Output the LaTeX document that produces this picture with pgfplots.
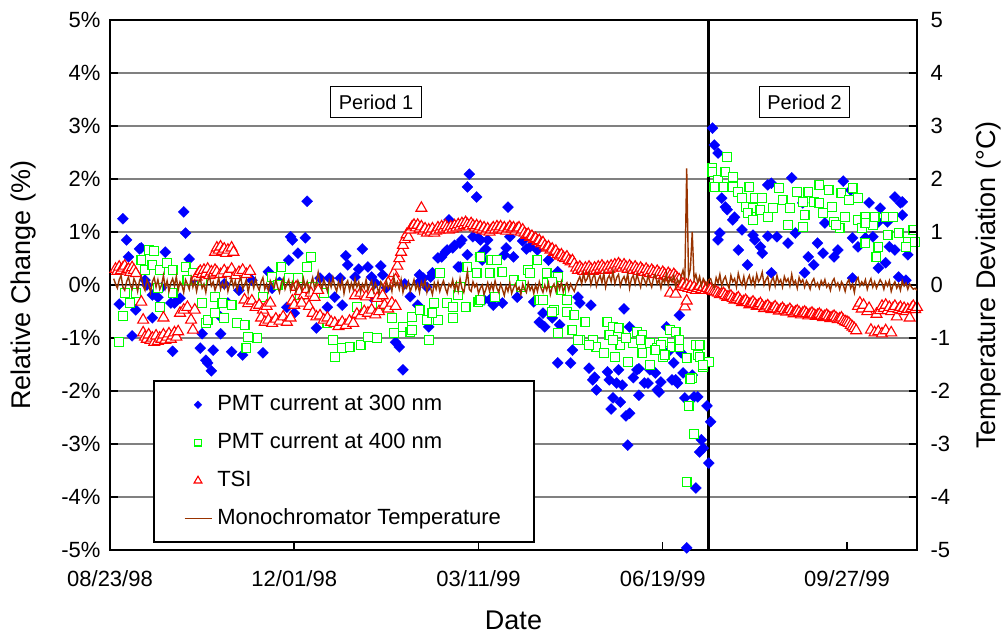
\documentclass[border=0pt]{standalone}
\usepackage{fontspec}
\setmainfont{Liberation Sans}
\usepackage{pgfplots}
\pgfplotsset{compat=1.18}
\definecolor{pmtblue}{RGB}{0,0,255}
\definecolor{pmtgreen}{RGB}{0,255,0}
\definecolor{tsired}{RGB}{255,0,0}
\definecolor{tempbrown}{RGB}{153,51,0}
\definecolor{gridgray}{RGB}{128,128,128}
\begin{document}
\begin{tikzpicture}
\pgfplotsset{
  every axis/.append style={
    width=807bp, height=530bp, scale only axis,
    xmin=0, xmax=438, ymin=-5, ymax=5,
    tick align=inside, major tick length=8bp,
    every tick/.style={black, line width=1.5bp},
    ticklabel style={font=\fontsize{22bp}{26bp}\selectfont},
    label style={font=\fontsize{27bp}{32bp}\selectfont},
    /pgf/number format/assume math mode=true,
  }
}
\begin{axis}[name=ax,
  axis line style={black, line width=2.5bp},
  xtick={0,100,200,300,400},
  xticklabels={08/23/98,12/01/98,03/11/99,06/19/99,09/27/99},
  xtick pos=bottom, ytick pos=left,
  ytick={-5,-4,-3,-2,-1,0,1,2,3,4,5},
  yticklabels={-5\%,-4\%,-3\%,-2\%,-1\%,0\%,1\%,2\%,3\%,4\%,5\%},
  ymajorgrids, grid style={gridgray, line width=1.5bp},
  extra y ticks={0}, extra y tick labels={},
  extra y tick style={grid style={black, line width=1bp}},
  xlabel={Date}, ylabel={Relative Change (\%)},
  xlabel style={at={(axis description cs:0.5,-0.132)}, anchor=center},
  ylabel style={at={(axis description cs:-0.1066,0.5)}, anchor=center},
  xticklabel style={yshift=-17bp},
  yticklabel style={xshift=-6bp},
]
% PMT current at 300 nm
\addplot[only marks, mark=square*, mark size=3.9bp, mark options={rotate=45, draw=pmtblue, fill=pmtblue, line width=0.3bp}] coordinates {
(7,1.25)(9,0.85)(10,0.53)(16,0.68)(17,0.70)(5,-0.36)(14,-0.47)(12,-0.96)(23,-0.62)(30,0.62)
(34,-1.25)(40,1.38)(41,0.98)(38,-0.25)(33,-0.34)(43,0.49)(49,-1.19)(50,-0.92)(52,-1.42)(53,-1.47)
(55,-1.62)(56,-1.23)(60,-0.92)(66,-1.26)(72,-1.32)(83,-1.28)(60,-0.60)(64,-0.34)(77,0.09)(86,0.25)
(98,0.91)(99,0.85)(102,0.60)(97,0.47)(19,0.09)(23,-0.19)(26,-0.23)(35,-0.34)(100,-0.53)(96,-0.42)
(20,0.00)(28,-0.05)(45,0.10)(62,0.02)(70,-0.10)(88,-0.06)(92,0.05)(110,-0.10)(150,-0.05)(160,0.02)(163,-0.22)
(107,1.58)(106,0.89)(137,0.68)(128,0.55)(129,0.38)(135,0.30)(140,0.34)(147,0.36)(148,0.19)(133,0.15)
(125,0.13)(114,0.13)(119,0.13)(142,0.15)(144,0.04)(122,-0.23)(118,-0.42)(126,-0.38)(142,-0.23)(112,-0.81)
(155,-1.08)(157,-1.17)(159,-1.60)(167,-0.38)(173,-0.79)(170,0.13)(174,0.15)(175,0.23)(178,0.51)(180,0.53)
(183,0.66)(186,0.70)(187,0.75)(184,1.23)(189,0.34)(191,0.85)(193,1.19)(195,2.09)(194,1.85)(199,1.66)
(197,0.91)(200,0.89)(204,0.68)(202,0.47)(205,0.85)(201,0.53)(203,-0.28)(206,-0.28)(172,-0.04)(168,0.19)
(190,0.79)(201,0.85)(194,0.57)(201,0.57)(168,0.06)(190,0.34)(182,0.62)
(216,1.47)(217,0.91)(215,0.70)(219,0.53)(214,0.57)(224,0.83)(226,0.68)(228,0.72)(232,0.66)(238,0.47)
(243,0.25)(208,-0.38)(213,-0.34)(221,-0.23)(230,-0.32)(235,-0.53)(233,-0.70)(236,-0.79)(240,-0.62)(244,-0.75)
(254,-0.23)(255,-0.34)(261,-0.38)(279,-0.45)(251,-1.23)(243,-1.47)(250,-1.47)(260,-1.57)(262,-1.79)(264,-1.98)
(270,-1.64)(276,-1.60)(282,-0.79)(286,-1.60)(292,-1.85)(297,-1.98)(299,-1.83)(305,-1.79)(308,-1.85)(311,-1.66)
(302,-0.79)(309,-0.57)(273,-2.13)(287,-2.08)(317,-2.11)(263,-1.74)(271,-1.79)(275,-1.85)(278,-1.89)(277,-2.21)
(272,-2.34)(282,-2.42)(280,-2.47)(281,-3.02)(284,-1.75)(287,-1.58)(290,-1.85)(293,-1.60)(296,-1.66)(298,-2.02)
(307,-1.79)(312,-2.13)(319,-2.11)(324,-2.28)(326,-2.58)(321,-2.92)(322,-3.08)(320,-3.15)(325,-3.36)(318,-3.83)
(313,-4.96)(306,-1.47)(303,-1.26)(310,-1.28)(316,-1.70)
(327,2.96)(328,2.64)(330,2.49)(332,1.64)(334,1.47)(335,1.42)(339,1.28)(338,1.23)(331,0.98)(330,0.85)
(343,1.04)(349,0.94)(350,0.85)(341,0.66)(346,0.38)(353,0.72)(354,0.60)(357,0.92)(357,1.89)(359,1.92)
(362,0.91)(359,0.23)(368,0.79)(370,2.02)(372,0.98)(376,1.55)(377,0.23)(379,0.53)(382,0.38)(384,0.79)
(387,0.60)(388,1.17)(393,0.53)(395,0.66)(398,1.96)(402,1.79)(403,0.89)(406,0.72)(403,0.13)(412,1.55)
(410,0.89)(414,0.91)(417,0.32)(421,0.42)(423,0.72)(426,0.66)(426,1.66)(429,1.55)(430,1.57)(430,1.32)
(433,0.57)(428,0.15)(432,0.09)(422,1.19)(418,1.45)(417,1.19)
};
% PMT current at 400 nm
\addplot[only marks, mark=square*, mark size=4.4bp, mark options={draw=pmtgreen, fill=white, line width=1.2bp}] coordinates {
(5,-1.08)(7,-0.58)(11,-0.34)(8,-0.15)(14,-0.15)(17,0.47)(21,0.66)(24,0.64)(19,0.28)(23,0.38)
(27,0.28)(31,0.42)(34,0.28)(26,-0.06)(27,-0.42)(34,-0.15)(41,0.34)(45,0.23)(42,0.09)(50,0.09)
(50,-0.34)(52,-0.72)(53,-0.66)(57,-0.23)(57,-0.53)(61,-0.34)(62,-0.62)(66,-0.38)(69,-0.72)(73,-0.75)
(75,-0.98)(74,-1.19)(80,-1.00)(83,-0.23)(88,0.15)(93,0.34)(91,0.00)(97,0.13)(102,0.13)(103,-0.19)
(107,0.34)(109,0.53)(110,-0.04)(116,-0.15)(118,-0.72)(121,-1.04)(122,-1.36)(126,-1.19)(130,-1.17)(136,-1.13)
(140,-0.98)(145,-1.00)(134,-0.42)(147,-0.38)(153,-0.62)(159,-0.79)(154,-0.91)(163,-0.89)(164,-0.60)(168,-0.47)
(173,-1.04)(172,-0.66)(178,-0.66)(176,-0.34)(183,-0.34)(186,-0.62)(179,0.23)(189,-0.19)(193,-0.42)(194,0.34)
(199,0.23)(200,-0.32)(201,0.53)(206,0.23)(207,0.47)(210,0.47)(213,0.25)(219,0.09)(232,0.47)(227,0.28)
(223,-0.04)(237,0.04)(243,0.15)(233,-0.28)(241,-0.47)(248,-0.28)(201,-0.28)(209,-0.23)(190,-0.04)(164,-0.85)
(175,-0.53)(186,-0.42)(223,0.00)(228,0.23)(237,0.23)(240,0.06)(235,-0.28)(245,-0.09)(240,-0.51)(248,-0.51)
(252,-0.57)(258,-0.70)(243,-0.91)(251,-0.85)(255,-1.04)(262,-1.04)(270,-0.70)(273,-0.79)(276,-0.81)(271,-0.94)
(264,-1.17)(268,-1.28)(274,-1.36)(281,-1.45)(286,-0.89)(289,-0.94)(284,-1.09)(293,-1.09)(297,-1.19)(300,-1.08)
(304,-0.85)(307,-0.89)(305,-1.17)(309,-1.17)(313,-1.38)(319,-1.32)(322,-1.55)(316,-1.75)(293,-1.51)(300,-1.36)
(289,-1.28)(254,-1.04)(260,-1.13)(277,-1.13)(288,-1.04)(299,-1.13)(309,-1.04)(318,-1.13)(273,-1.04)(280,-1.00)
(296,-1.23)(301,-1.32)(320,-1.13)
(315,-1.77)(314,-2.28)(317,-2.81)(313,-3.72)(325,-1.45)(320,-1.36)(322,-1.51)
(327,2.21)(327,2.13)(335,2.42)(330,1.98)(334,2.13)(338,2.04)(328,1.85)(333,1.85)(338,1.85)(341,1.75)
(347,1.85)(343,1.64)(345,1.47)(350,1.64)(354,1.64)(349,1.45)(346,1.36)(349,1.23)(353,1.42)(357,1.28)
(360,1.45)(363,1.83)(365,1.60)(369,1.45)(368,1.13)(373,1.75)(376,1.57)(379,1.75)(377,1.32)(382,1.57)
(376,1.09)(385,1.89)(390,1.79)(385,1.55)(387,1.36)(392,1.47)(393,1.19)(397,1.74)(403,1.83)(406,1.64)
(401,1.60)(399,1.28)(396,1.08)(394,1.13)(406,1.23)(410,1.28)(408,1.08)(414,1.13)(410,0.79)(417,0.72)
(415,1.28)(421,1.28)(425,1.28)(422,0.94)(428,0.98)(433,0.81)(436,1.04)(437,0.81)(432,0.72)(416,0.53)
(410,1.17)
};
% TSI
\addplot[only marks, mark=triangle*, mark size=6.3bp, mark options={draw=tsired, fill=white, line width=1.1bp}] coordinates {
(3,0.30)(4,0.26)(5,0.34)(6,0.28)(7,0.32)(8,0.36)(9,0.27)(10,0.30)(11,0.24)(12,0.33)(13,0.28)(14,0.22)
(17,-0.32)(18,-0.66)
(18,-0.90)(19,-0.98)(20,-1.02)(21,-0.94)(22,-1.04)(23,-1.00)(24,-1.08)(25,-0.96)(26,-1.06)(27,-1.00)
(28,-1.02)(29,-0.94)(30,-1.04)(31,-0.98)(32,-0.92)(33,-1.02)(34,-0.96)(35,-0.90)(36,-0.98)(37,-0.88)
(29,-0.62)(38,-0.53)(40,-0.47)(42,-0.42)(44,-0.66)(45,-0.85)(46,-0.47)
(47,0.15)(48,0.22)(49,0.26)(50,0.20)(51,0.28)(52,0.22)(53,0.30)(54,0.18)(55,0.25)(56,0.21)(57,0.28)
(58,0.24)(60,0.20)(62,0.27)(64,0.22)(66,0.30)(68,0.18)(70,0.24)(72,0.28)(74,0.20)(76,0.26)
(57,0.62)(58,0.70)(59,0.66)(60,0.72)(61,0.64)(62,0.68)(63,0.60)(64,0.66)(66,0.70)(67,0.62)
(73,-0.28)(75,-0.35)(77,-0.30)(79,-0.42)(81,-0.38)(83,-0.47)(85,-0.40)(87,-0.34)
(82,-0.62)(84,-0.70)(86,-0.66)(88,-0.72)(90,-0.64)(92,-0.68)(94,-0.60)(96,-0.70)(98,-0.62)
(99,-0.30)(101,-0.04)(103,-0.12)(105,-0.20)(107,-0.08)(109,-0.15)(111,-0.23)(113,-0.10)(100,-0.38)(104,-0.34)(108,-0.40)
(110,-0.53)(112,-0.60)(114,-0.58)(116,-0.66)(118,-0.62)(120,-0.70)(122,-0.72)(124,-0.78)(126,-0.70)(128,-0.76)(130,-0.68)(132,-0.72)
(134,-0.55)(136,-0.58)(138,-0.50)(140,-0.53)(142,-0.47)(144,-0.56)(146,-0.50)
(133,-0.20)(136,-0.15)(139,-0.22)(142,-0.18)(145,-0.25)(148,-0.20)
(149,-0.38)(151,-0.45)(153,-0.34)(155,-0.40)(151,0.04)
(154,0.22)(155,0.10)(156,0.36)(157,0.50)(158,0.62)(159,0.75)(160,0.86)(161,0.95)(162,0.90)(163,1.04)(164,1.10)(165,1.13)
(169,1.45)
(166,1.08)(167,1.13)(168,1.06)(169,1.10)(170,1.02)(171,1.06)(172,0.98)(173,1.04)(174,1.00)(175,1.06)
(176,0.98)(177,1.02)(178,1.08)(179,1.04)(180,1.10)(181,1.06)(182,1.12)(183,1.08)(184,1.04)(185,1.10)
(186,1.06)(187,1.12)(188,1.08)(189,1.14)(190,1.10)(191,1.16)(192,1.12)(193,1.18)(194,1.14)(195,1.10)
(196,1.16)(197,1.12)(198,1.08)(199,1.12)(200,1.06)(201,1.10)(202,1.04)(203,1.08)(204,1.02)(205,1.06)
(206,1.00)(207,1.04)(208,1.08)(209,1.04)(210,1.10)(211,1.06)(212,1.10)(213,1.04)(214,1.08)(215,1.02)
(216,1.06)(217,1.10)(218,1.06)(219,1.08)(220,1.02)(221,1.06)(222,1.08)(223,1.00)(224,1.04)
(225,0.98)(226,0.94)(227,0.96)(228,0.90)(229,0.92)(230,0.86)(231,0.88)(232,0.82)(233,0.84)(234,0.78)
(235,0.80)(236,0.74)(237,0.70)(238,0.72)(239,0.66)(240,0.68)(241,0.62)(242,0.64)(243,0.58)(244,0.55)
(245,0.57)(246,0.52)(247,0.50)(248,0.53)(249,0.47)(250,0.44)(251,0.46)(252,0.40)
(253,0.32)(254,0.28)(255,0.34)(256,0.30)(257,0.26)(258,0.32)(259,0.28)(260,0.34)(261,0.30)(262,0.26)
(263,0.32)(264,0.28)(265,0.34)(266,0.30)(267,0.36)(268,0.32)(269,0.28)(270,0.34)(271,0.30)(272,0.36)
(273,0.32)(274,0.38)(275,0.34)(276,0.40)(277,0.36)(278,0.32)(279,0.38)(280,0.34)(281,0.30)(282,0.36)
(283,0.32)(284,0.28)(285,0.34)(286,0.30)(287,0.26)(288,0.32)(289,0.28)(290,0.24)(291,0.30)(292,0.26)
(293,0.22)(294,0.28)(295,0.24)(296,0.20)(297,0.26)(298,0.22)(299,0.18)(300,0.24)(301,0.20)(302,0.16)
(303,0.22)(304,0.18)(305,0.14)(306,0.20)(307,0.16)(308,0.12)(309,0.10)
(304,-0.15)(307,-0.17)(312,-0.41)(313,-0.30)
(310,-0.02)(311,0.02)(312,-0.04)(313,0.00)(314,-0.06)(315,-0.02)(316,-0.08)(317,-0.04)(318,-0.10)
(319,-0.06)(320,-0.02)(321,-0.08)(322,-0.04)(323,-0.10)(324,-0.06)(325,-0.10)
(326,-0.08)(327,-0.11)(328,-0.12)(329,-0.13)(330,-0.15)(331,-0.18)(332,-0.17)(333,-0.16)(334,-0.20)
(335,-0.23)(336,-0.22)(337,-0.21)(338,-0.25)(339,-0.28)(340,-0.27)(341,-0.24)(342,-0.29)(343,-0.33)
(344,-0.31)(345,-0.29)(346,-0.33)(347,-0.37)(348,-0.35)(349,-0.32)(350,-0.36)(351,-0.40)(352,-0.38)
(353,-0.35)(354,-0.40)(355,-0.44)(356,-0.41)(357,-0.39)(358,-0.43)(359,-0.46)(360,-0.44)(361,-0.41)
(362,-0.45)(363,-0.49)(364,-0.47)(365,-0.44)(366,-0.48)(367,-0.51)(368,-0.49)(369,-0.46)(370,-0.50)
(371,-0.54)(372,-0.51)(373,-0.49)(374,-0.52)(375,-0.56)(376,-0.53)(377,-0.51)(378,-0.54)(379,-0.58)
(380,-0.55)(381,-0.53)(382,-0.56)(383,-0.59)(384,-0.57)(385,-0.55)(386,-0.58)(387,-0.61)(388,-0.59)
(389,-0.57)(390,-0.60)(391,-0.63)(392,-0.61)(393,-0.59)(394,-0.62)(395,-0.65)(396,-0.64)(397,-0.62)
(398,-0.67)(399,-0.69)(400,-0.70)(401,-0.72)(402,-0.76)(403,-0.79)(404,-0.82)(405,-0.86)
(413,-0.85)(415,-0.90)(417,-0.88)(419,-0.92)(421,-0.86)(424,-0.90)
(406,-0.40)(407,-0.34)(408,-0.45)(409,-0.38)(411,-0.50)(412,-0.44)(416,-0.55)(418,-0.48)(419,-0.40)
(420,-0.44)(421,-0.38)(422,-0.48)(423,-0.42)(424,-0.50)(425,-0.44)(426,-0.40)(427,-0.60)(428,-0.46)
(429,-0.42)(430,-0.48)(431,-0.44)(432,-0.50)(433,-0.46)(434,-0.62)(435,-0.44)(436,-0.40)(437,-0.46)(438,-0.42)
};
\addplot[black, line width=3bp, forget plot] coordinates {(325,-5) (325,5)};
\node[draw=black, line width=1.2bp, fill=white, font=\fontsize{20bp}{24bp}\selectfont, inner xsep=8bp, inner ysep=8bp] at (axis cs:144.4,3.45) {Period 1};
\node[draw=black, line width=1.2bp, fill=white, font=\fontsize{20bp}{24bp}\selectfont, inner xsep=8bp, inner ysep=8bp] at (axis cs:377,3.45) {Period 2};
\end{axis}
\begin{axis}[
  axis x line=none, axis y line*=right,
  axis line style={black, line width=2.5bp},
  ytick={-5,-4,-3,-2,-1,0,1,2,3,4,5},
  yticklabels={-5,-4,-3,-2,-1,0,1,2,3,4,5},
  ylabel={Temperature Deviation (°C)},
  ylabel style={at={(axis description cs:1.088,0.5)}, anchor=center},
  yticklabel style={xshift=10bp},
  legend cell align=left,
  legend style={at={(0.0533,0.0132)}, anchor=south west, draw=black, line width=1.5bp, fill=white,
    font=\fontsize{22bp}{26bp}\selectfont, inner xsep=30bp, inner ysep=10bp, row sep=11bp, column sep=2bp,
    nodes={inner xsep=3bp, inner ysep=3bp, text height=16bp, text depth=5bp}},
]
\addlegendimage{legend image code/.code={\path (0bp,0bp) (27bp,0bp); \draw[pmtblue] plot[only marks, mark=square*, mark size=2.8bp, mark options={rotate=45, fill=pmtblue, line width=0.3bp}] coordinates {(13.5bp,0bp)};}}
\addlegendentry{PMT current at 300 nm}
\addlegendimage{legend image code/.code={\path (0bp,0bp) (27bp,0bp); \draw[pmtgreen] plot[only marks, mark=square*, mark size=3.3bp, mark options={fill=white, line width=1.2bp}] coordinates {(13.5bp,0bp)};}}
\addlegendentry{PMT current at 400 nm}
\addlegendimage{legend image code/.code={\path (0bp,0bp) (27bp,0bp); \draw[tsired] plot[only marks, mark=triangle*, mark size=4.5bp, mark options={fill=white, line width=1.1bp}] coordinates {(13.5bp,0bp)};}}
\addlegendentry{TSI}
\addplot[tempbrown, line width=1.4bp, legend image code/.code={\draw[tempbrown, line width=1.3bp] (0bp,0bp) -- (27bp,0bp);}] coordinates {
(2,0.12)(3,0.02)(4,-0.06)(5,0.10)(6,0.18)(7,-0.04)(8,-0.10)(9,0.06)(10,0.15)(11,0.00)
(12,-0.08)(13,0.12)(14,0.04)(15,-0.12)(16,0.08)(17,0.16)(18,-0.02)(19,-0.10)(20,0.10)(21,0.02)
(22,-0.14)(23,0.06)(24,0.14)(25,-0.04)(26,0.10)(27,-0.08)(28,0.00)(29,0.18)(30,-0.06)(31,0.08)
(32,-0.12)(33,0.04)(34,0.12)(35,-0.02)(36,0.16)(37,-0.10)(38,0.06)(39,0.00)(40,-0.14)(41,0.10)
(42,0.02)(43,-0.08)(44,0.14)(45,-0.04)(46,0.08)(47,-0.12)(48,0.04)(49,0.12)(50,-0.06)(51,0.02)
(52,-0.14)(53,0.08)(54,0.16)(55,-0.02)(56,0.06)(57,-0.10)(58,0.00)(59,0.14)(60,-0.08)(61,0.04)
(62,-0.06)(63,0.10)(64,-0.12)(65,0.02)(66,0.12)(67,-0.04)(68,0.08)(69,-0.10)(70,0.06)(71,0.14)
(72,-0.08)(73,0.00)(74,0.10)(75,-0.14)(76,0.04)(77,0.08)(78,-0.06)(79,0.12)(80,-0.02)(81,-0.10)
(82,0.06)(83,0.14)(84,-0.08)(85,0.02)(86,-0.12)(87,0.08)(88,0.00)(89,-0.06)(90,0.10)(91,-0.04)
(92,-0.14)(93,0.04)(94,0.12)(95,-0.08)(96,0.02)(97,0.10)(98,-0.10)(99,0.06)(100,-0.02)(101,-0.12)
(102,0.08)(103,0.00)(104,-0.10)(105,0.12)(106,-0.04)(107,0.06)(108,-0.14)(109,0.02)(110,0.14)(111,-0.06)
(112,0.04)(113,0.24)(114,0.06)(115,-0.08)(116,0.10)(117,0.00)(118,-0.12)(119,0.08)(120,-0.04)(121,0.14)
(122,-0.02)(123,-0.12)(124,0.06)(125,-0.06)(126,0.10)(127,-0.16)(128,0.02)(129,0.08)(130,-0.10)(131,0.04)
(132,-0.08)(133,0.12)(134,-0.04)(135,0.06)(136,-0.14)(137,0.02)(138,-0.06)(139,0.10)(140,-0.10)(141,0.00)
(142,0.08)(143,-0.12)(144,0.04)(145,-0.04)(146,-0.16)(147,0.06)(148,0.00)(149,-0.10)(150,0.08)(151,-0.06)
(152,0.02)(153,-0.12)(154,0.16)(155,-0.02)(156,0.06)(157,-0.08)(158,0.10)(159,-0.14)(160,0.00)(161,-0.06)
(162,0.06)(163,-0.12)(164,-0.02)(165,0.10)(166,-0.08)(167,0.02)(168,-0.14)(169,0.06)(170,-0.04)(171,0.08)
(172,-0.14)(173,0.00)(174,-0.06)(175,-0.18)(176,0.04)(177,-0.08)(178,0.06)(179,-0.12)(180,0.00)(181,0.08)
(182,-0.06)(183,-0.16)(184,0.02)(185,-0.04)(186,0.10)(187,-0.10)(188,0.04)(189,-0.12)(190,0.12)(191,-0.06)
(192,-0.14)(193,0.04)(194,0.26)(195,-0.08)(196,-0.12)(197,0.06)(198,-0.04)(199,0.02)(200,-0.16)(201,-0.06)
(202,0.00)(203,-0.18)(204,-0.08)(205,0.04)(206,-0.12)(207,0.02)(208,-0.10)(209,0.08)(210,-0.06)(211,-0.14)
(212,0.02)(213,-0.08)(214,-0.20)(215,-0.02)(216,-0.12)(217,0.04)(218,-0.16)(219,-0.06)(220,0.02)(221,-0.10)
(222,-0.04)(223,-0.18)(224,0.02)(225,-0.08)(226,-0.14)(227,0.04)(228,-0.10)(229,-0.02)(230,-0.16)(231,0.00)
(232,-0.12)(233,0.06)(234,-0.06)(235,-0.14)(236,0.00)(237,-0.10)(238,0.04)(239,-0.18)(240,-0.04)(241,0.02)
(242,-0.12)(243,0.04)(244,-0.08)(245,0.06)(246,-0.14)(247,-0.02)(248,0.04)(249,-0.10)(250,0.02)(251,-0.06)
(252,-0.12)(253,0.00)(254,0.08)(255,0.16)(256,0.02)(257,0.22)(258,0.06)(259,0.12)(260,0.24)(261,0.00)
(262,0.14)(263,0.20)(264,-0.02)(265,0.10)(266,0.18)(267,0.04)(268,0.22)(269,-0.04)(270,0.12)(271,0.18)
(272,0.06)(273,0.26)(274,0.02)(275,0.14)(276,0.20)(277,-0.02)(278,0.10)(279,0.16)(280,0.04)(281,0.22)
(282,-0.06)(283,0.12)(284,0.18)(285,0.02)(286,0.20)(287,0.08)(288,-0.04)(289,0.16)(290,0.10)(291,0.00)
(292,0.18)(293,0.06)(294,-0.04)(295,0.14)(296,0.20)(297,0.02)(298,0.10)(299,-0.06)(300,0.12)(301,0.04)
(302,0.22)(303,0.00)(304,0.14)(305,0.06)(306,0.18)(307,-0.04)(308,0.10)(309,0.04)(310,0.16)(311,0.28)
(312,0.10)(313,2.20)(314,0.15)(315,0.30)(316,1.00)(317,0.10)(318,0.20)(319,0.04)(320,0.16)(321,-0.02)
(322,0.12)(323,0.06)(324,-0.02)(325,0.10)
(326,0.12)(327,0.00)(328,-0.06)(329,0.14)(330,0.04)(331,0.20)(332,-0.02)(333,0.10)(334,0.16)(335,0.02)
(336,-0.06)(337,0.18)(338,0.06)(339,0.12)(340,-0.04)(341,0.22)(342,0.08)(343,0.00)(344,0.16)(345,-0.04)
(346,0.10)(347,0.18)(348,0.02)(349,0.14)(350,-0.02)(351,0.20)(352,0.06)(353,0.12)(354,0.24)(355,0.00)
(356,0.10)(357,0.16)(358,-0.06)(359,0.08)(360,0.14)(361,-0.02)(362,0.18)(363,0.04)(364,0.10)(365,-0.04)
(366,0.16)(367,0.06)(368,0.12)(369,-0.02)(370,0.20)(371,0.02)(372,0.08)(373,-0.06)(374,0.14)(375,0.04)
(376,0.10)(377,-0.04)(378,0.08)(379,0.02)(380,-0.08)(381,0.06)(382,0.12)(383,-0.02)(384,0.04)(385,-0.06)
(386,0.08)(387,0.00)(388,0.10)(389,-0.04)(390,0.02)(391,-0.10)(392,0.06)(393,0.12)(394,-0.02)(395,0.04)
(396,-0.08)(397,0.06)(398,0.00)(399,-0.12)(400,0.04)(401,0.10)(402,-0.06)(403,0.02)(404,-0.14)(405,0.08)
(406,0.14)(407,-0.02)(408,0.06)(409,0.00)(410,0.10)(411,-0.08)(412,0.04)(413,0.12)(414,-0.04)(415,0.06)
(416,-0.06)(417,0.02)(418,0.10)(419,0.04)(420,-0.08)(421,0.06)(422,-0.02)(423,0.08)(424,-0.12)(425,0.00)
(426,0.06)(427,-0.06)(428,0.02)(429,-0.10)(430,0.08)(431,-0.02)(432,0.04)(433,-0.08)(434,0.02)(435,-0.04)
(436,-0.08)(437,-0.06)(438,-0.10)
};
\addlegendentry{Monochromator Temperature}
\end{axis}
\pgfresetboundingbox
\path[use as bounding box] ([xshift=-110bp,yshift=-85bp]ax.south west) rectangle ([xshift=91bp,yshift=20bp]ax.north east);
\end{tikzpicture}
\end{document}
